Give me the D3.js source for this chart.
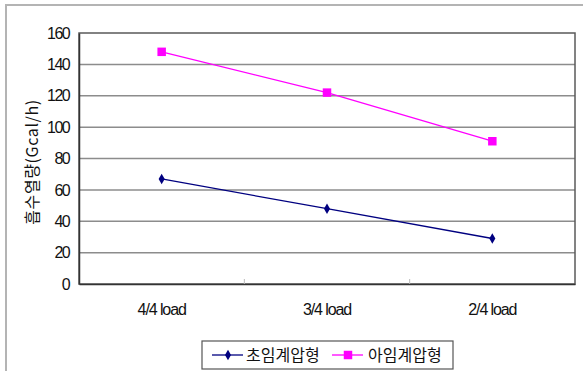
<!DOCTYPE html>
<html>
<head>
<meta charset="utf-8">
<script src="https://cdn.jsdelivr.net/npm/d3@7"></script>
<style>
  html, body { margin: 0; padding: 0; background: #fff; }
  svg { display: block; }
  text { font-family: "Liberation Sans", Arial, sans-serif; fill: #111; }
  .kr { font-family: "Noto Sans CJK KR", "Noto Sans", sans-serif; }
</style>
</head>
<body>
<svg id="chart" width="583" height="371"></svg>
<script>
// Heat absorption by load condition
const categories = ["4/4 load", "3/4 load", "2/4 load"];
const seriesNames = ["초임계압형", "아임계압형"];
const supercritical = [67, 48, 29];
const subcritical = [148, 122, 91];
const yTicks = [0, 20, 40, 60, 80, 100, 120, 140, 160];
const yTitle = "흡수열량(Gcal/h)";

const svg = d3.select("#chart");
const plot = { left: 79, right: 575, top: 33, bottom: 284 };

// outer chart frame (left/top edges visible)
svg.append("rect")
  .attr("x", 6).attr("y", 5).attr("width", 590).attr("height", 400)
  .attr("fill", "none").attr("stroke", "#b4b4b4").attr("stroke-width", 2);

const x = d3.scaleBand().domain(categories).range([plot.left, plot.right]);
const y = d3.scaleLinear().domain([0, 160]).range([plot.bottom, plot.top]);

// horizontal gridlines
svg.append("g").selectAll("line").data(yTicks.filter(v => v > 0 && v < 160)).join("line")
  .attr("x1", plot.left).attr("x2", plot.right)
  .attr("y1", d => y(d)).attr("y2", d => y(d))
  .attr("stroke", "#8c8c8c").attr("stroke-width", 1.5);

// plot frame
svg.append("rect")
  .attr("x", plot.left).attr("y", plot.top)
  .attr("width", plot.right - plot.left).attr("height", plot.bottom - plot.top)
  .attr("fill", "none").attr("stroke", "#5a5a5a").attr("stroke-width", 1.5);

// y axis labels
const yAxis = d3.axisLeft(y).tickValues(yTicks).tickSize(0).tickPadding(10);
const gy = svg.append("g").attr("transform", `translate(${plot.left},0)`).call(yAxis);
gy.select(".domain").attr("stroke", "#333").attr("stroke-width", 1.5);
gy.selectAll("text").attr("font-size", 16).attr("letter-spacing", -1.6)
  .attr("font-family", "Liberation Sans, Arial, sans-serif").attr("fill", "#111");

// x axis with ticks at category boundaries
const gx = svg.append("g").attr("transform", `translate(0,${plot.bottom})`)
  .call(d3.axisBottom(x).tickSize(0).tickPadding(20));
gx.select(".domain").attr("stroke", "#333").attr("stroke-width", 1.5);
gx.selectAll("text").attr("font-size", 16).attr("letter-spacing", -1.1)
  .attr("font-family", "Liberation Sans, Arial, sans-serif").attr("fill", "#111");
svg.append("g").selectAll("line").data(categories.slice(1)).join("line")
  .attr("x1", d => x(d)).attr("x2", d => x(d))
  .attr("y1", plot.bottom - 5).attr("y2", plot.bottom)
  .attr("stroke", "#bbb").attr("stroke-width", 1);

// y axis title
svg.append("text").attr("class", "kr")
  .attr("transform", "translate(32,162) rotate(-90)")
  .attr("text-anchor", "middle").attr("dy", "0.35em")
  .attr("font-size", 16).attr("letter-spacing", 0.6)
  .text(yTitle);

const cx = d => x(d) + x.bandwidth() / 2;
const line = d3.line().x(d => cx(d.c)).y(d => y(d.v));

const series = [
  { name: seriesNames[0], values: supercritical, color: "#000080", shape: d3.symbolDiamond, size: 32 },
  { name: seriesNames[1], values: subcritical, color: "#ff00ff", shape: d3.symbolSquare, size: 72 }
];

series.forEach(s => {
  const pts = categories.map((c, i) => ({ c, v: s.values[i] }));
  svg.append("path").datum(pts).attr("d", line)
    .attr("fill", "none").attr("stroke", s.color).attr("stroke-width", 1.3);
  svg.append("g").selectAll("path").data(pts).join("path")
    .attr("transform", d => `translate(${cx(d.c)},${y(d.v)})`)
    .attr("d", d3.symbol().type(s.shape).size(s.size))
    .attr("fill", s.color);
});

// legend
const lg = svg.append("g");
lg.append("rect").attr("x", 202).attr("y", 341).attr("width", 251).attr("height", 28)
  .attr("fill", "#fff").attr("stroke", "#555").attr("stroke-width", 1.2);
const legendItems = [
  { s: series[0], lx: 212, tx: 246 },
  { s: series[1], lx: 332, tx: 368 }
];
legendItems.forEach(({ s, lx, tx }) => {
  lg.append("line").attr("x1", lx).attr("x2", lx + 31).attr("y1", 355).attr("y2", 355)
    .attr("stroke", s.color).attr("stroke-width", 1.3);
  lg.append("path").attr("transform", `translate(${lx + 16},355)`)
    .attr("d", d3.symbol().type(s.shape).size(s.size)).attr("fill", s.color);
  lg.append("text").attr("class", "kr").attr("x", tx).attr("y", 355)
    .attr("dy", "0.36em").attr("font-size", 16).text(s.name);
});
</script>
</body>
</html>
